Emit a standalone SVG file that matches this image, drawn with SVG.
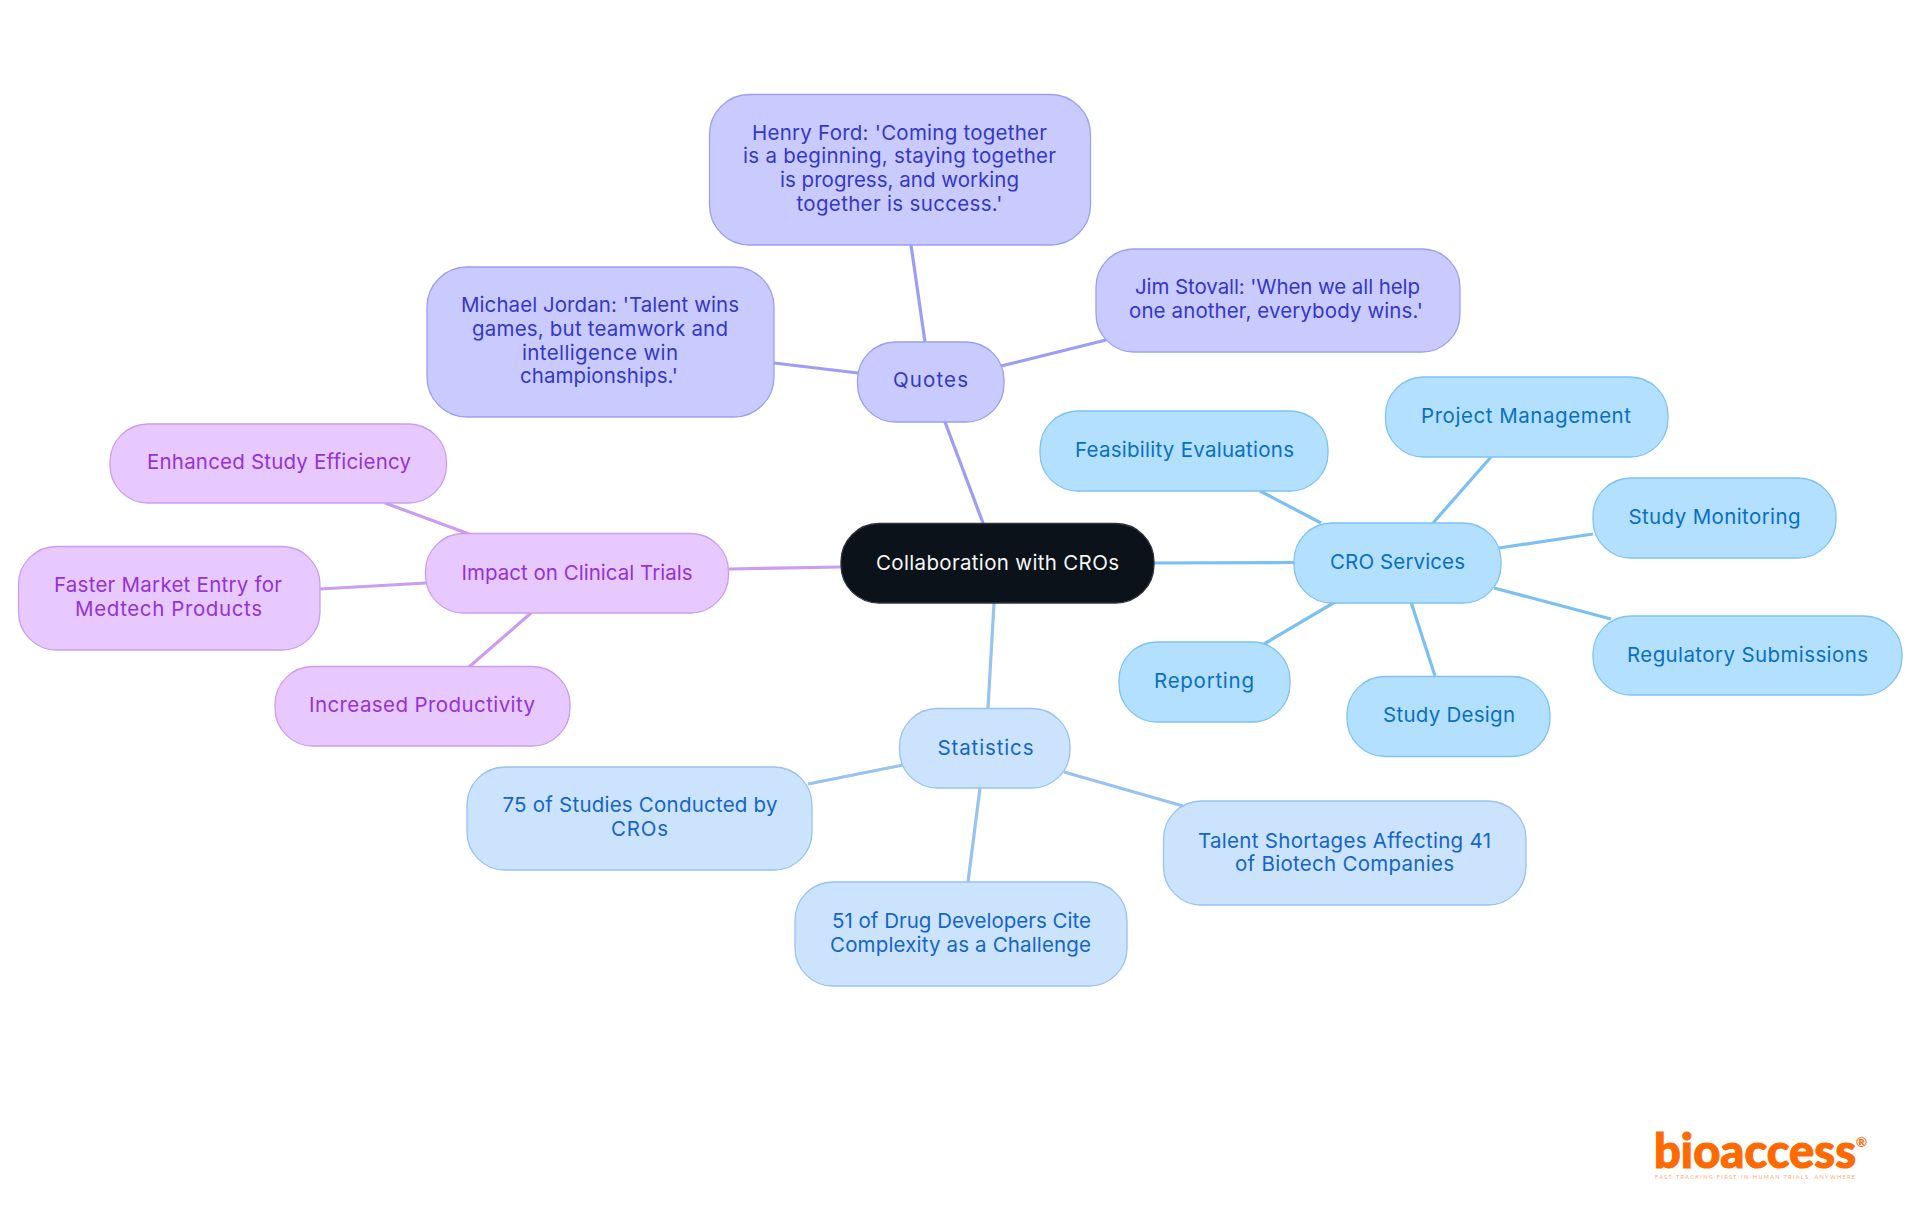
<svg xmlns="http://www.w3.org/2000/svg" width="1920" height="1215" viewBox="0 0 1920 1215">
<style>
text{font-family:"Inter","Noto Sans","Liberation Sans",sans-serif;font-size:20.5px;text-anchor:middle}
rect{stroke-width:1.3}
.l{fill:none;stroke-width:3.2;stroke-linecap:butt}
.root rect{fill:#0b1219;stroke:#2f343b}.root text{fill:#f6f6f6}
.q rect{fill:#c9cbff;stroke:#9c9ef3}.q text{fill:#3537c8}
.c rect{fill:#b3e0ff;stroke:#7fc2f2}.c text{fill:#0a6fc2}
.s rect{fill:#cce3fd;stroke:#98c2f0}.s text{fill:#1565c8}
.i rect{fill:#e7c9ff;stroke:#cb9df0}.i text{fill:#9333d6}
.lq{stroke:#9c9ef5}.lc{stroke:#7cc0f2}.ls{stroke:#98c2f0}.li{stroke:#cb9df0}
#logo text{fill:#ff6a00;font-family:"Lato","Inter",sans-serif}
#logo .w{stroke:#ff6a00;stroke-width:1.1px}
</style>
<g id="connectors">
<path class="l lq" d="M983 523L945 422"/>
<path class="l lc" d="M1154 563L1294 562.5"/>
<path class="l ls" d="M994 603L988 708"/>
<path class="l li" d="M841 567L729 569"/>
<path class="l lq" d="M925 342L911 245"/>
<path class="l lq" d="M858 373L774 363"/>
<path class="l lq" d="M1001 366L1106 340"/>
<path class="l lc" d="M1321 523L1260 491"/>
<path class="l lc" d="M1433 523L1491 457"/>
<path class="l lc" d="M1499 548L1593 534"/>
<path class="l lc" d="M1494 588L1611 619"/>
<path class="l lc" d="M1335 602L1264 644"/>
<path class="l lc" d="M1411 602L1435 676"/>
<path class="l ls" d="M903 765L808 784"/>
<path class="l ls" d="M1064 772L1183 806"/>
<path class="l ls" d="M980 788L968 882"/>
<path class="l li" d="M469 534L385 503"/>
<path class="l li" d="M426 583L320 589"/>
<path class="l li" d="M531 613L469 667"/>
</g>
<g id="root" class="root"><rect x="841" y="523.500" width="313" height="79.500" rx="38"/><text x="997.500" y="570" textLength="243">Collaboration with CROs</text></g>
<g id="quotes" class="q"><rect x="857.500" y="342" width="146.500" height="80" rx="38"/><text x="930.500" y="387" textLength="75">Quotes</text></g>
<g id="henry" class="q"><rect x="709.500" y="94.500" width="381" height="150.500" rx="40"/>
<text x="899.500" y="139.500" textLength="295">Henry Ford: 'Coming together</text>
<text x="899.500" y="163" textLength="313">is a beginning, staying together</text>
<text x="899.500" y="187" textLength="239">is progress, and working</text>
<text x="899.500" y="210.500" textLength="206">together is success.'</text></g>
<g id="michael" class="q"><rect x="427" y="267" width="347" height="150" rx="40"/>
<text x="600" y="312" textLength="278">Michael Jordan: 'Talent wins</text>
<text x="600" y="336" textLength="256">games, but teamwork and</text>
<text x="600" y="360" textLength="156">intelligence win</text>
<text x="599" y="383" textLength="158">championships.'</text></g>
<g id="jim" class="q"><rect x="1096" y="249" width="364" height="103" rx="38"/>
<text x="1277.500" y="294" textLength="285">Jim Stovall: 'When we all help</text>
<text x="1276" y="318" textLength="294">one another, everybody wins.'</text></g>
<g id="cro" class="c"><rect x="1294" y="523" width="207" height="80" rx="38"/><text x="1397.500" y="569" textLength="135">CRO Services</text></g>
<g id="feasibility" class="c"><rect x="1040" y="411" width="288" height="80" rx="38"/><text x="1184.500" y="457" textLength="219">Feasibility Evaluations</text></g>
<g id="project" class="c"><rect x="1385.500" y="377" width="282.500" height="80" rx="38"/><text x="1526" y="423" textLength="210">Project Management</text></g>
<g id="monitoring" class="c"><rect x="1593" y="478" width="243" height="80" rx="38"/><text x="1714.500" y="524" textLength="172">Study Monitoring</text></g>
<g id="regulatory" class="c"><rect x="1593" y="616" width="309" height="79" rx="38"/><text x="1747.500" y="662" textLength="241">Regulatory Submissions</text></g>
<g id="reporting" class="c"><rect x="1119" y="642" width="171" height="80" rx="38"/><text x="1204" y="688" textLength="100">Reporting</text></g>
<g id="design" class="c"><rect x="1347" y="676.500" width="203" height="80" rx="38"/><text x="1449" y="722" textLength="132">Study Design</text></g>
<g id="statistics" class="s"><rect x="899.500" y="708.500" width="170.500" height="79.500" rx="38"/><text x="985.500" y="755" textLength="96">Statistics</text></g>
<g id="s75" class="s"><rect x="467" y="767" width="345" height="103" rx="38"/>
<text x="640" y="812" textLength="275">75 of Studies Conducted by</text>
<text x="639.500" y="836" textLength="57">CROs</text></g>
<g id="s51" class="s"><rect x="795" y="882" width="332" height="104" rx="38"/>
<text x="961.500" y="928" textLength="259">51 of Drug Developers Cite</text>
<text x="960.500" y="952" textLength="261">Complexity as a Challenge</text></g>
<g id="talent" class="s"><rect x="1163.500" y="801" width="362.500" height="104" rx="38"/>
<text x="1344.500" y="848" textLength="293">Talent Shortages Affecting 41</text>
<text x="1344.500" y="871" textLength="219">of Biotech Companies</text></g>
<g id="impact" class="i"><rect x="425.500" y="533.500" width="303" height="79.500" rx="38"/><text x="577" y="580" textLength="231">Impact on Clinical Trials</text></g>
<g id="enhanced" class="i"><rect x="110" y="424" width="336.500" height="79" rx="38"/><text x="279" y="469" textLength="264">Enhanced Study Efficiency</text></g>
<g id="faster" class="i"><rect x="18.500" y="546.500" width="301.500" height="103.500" rx="38"/>
<text x="168" y="592" textLength="228">Faster Market Entry for</text>
<text x="168.500" y="616" textLength="187">Medtech Products</text></g>
<g id="increased" class="i"><rect x="275" y="666.500" width="295" height="79.500" rx="38"/><text x="422" y="712" textLength="226">Increased Productivity</text></g>
<g id="logo">
<text class="w" x="1755" y="1167.500" textLength="202" style="font-size:47px;font-weight:900">bioaccess</text>
<text x="1861.500" y="1147" style="font-size:14px;font-weight:700">®</text>
<text x="1755" y="1179" textLength="200" style="font-size:5.500px;opacity:.6">FAST-TRACKING FIRST-IN-HUMAN TRIALS, ANYWHERE</text>
</g>
</svg>
